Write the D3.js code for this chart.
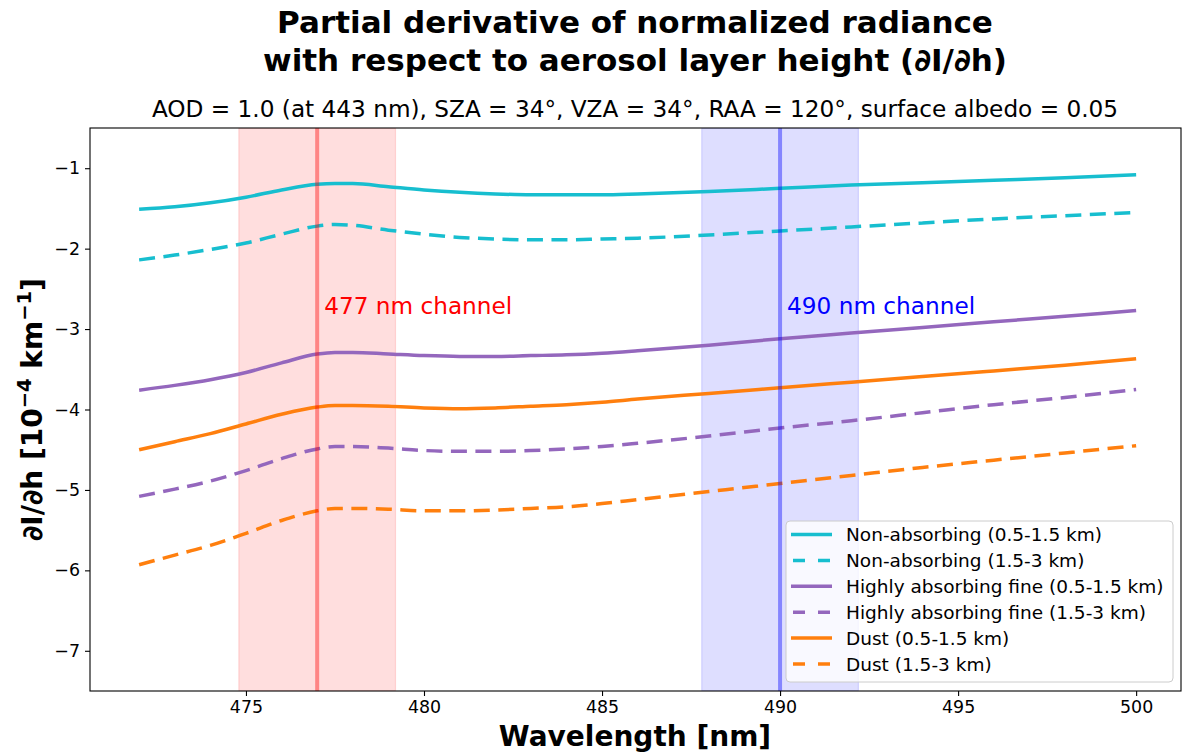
<!DOCTYPE html>
<html>
<head>
<meta charset="utf-8">
<script src="https://cdn.jsdelivr.net/npm/d3@7"></script>
<style>
  html, body { margin: 0; padding: 0; background: #fff; }
  svg { display: block; font-family: "DejaVu Sans", sans-serif; }
</style>
</head>
<body>
<svg id="chart" width="1183" height="754"></svg>
<script>
const wavelengths = [472, 473, 474, 475, 476, 477, 477.5, 478, 479, 480, 481, 482, 483, 484, 485, 486, 488, 490, 492, 494, 496, 498, 500];

const nonAbsLow  = [-1.51, -1.48, -1.43, -1.36, -1.27, -1.20, -1.19, -1.19, -1.23, -1.27, -1.30, -1.32, -1.33, -1.33, -1.33, -1.32, -1.29, -1.25, -1.21, -1.18, -1.15, -1.12, -1.08];
const nonAbsHigh = [-2.14, -2.08, -2.01, -1.93, -1.82, -1.72, -1.70, -1.71, -1.77, -1.82, -1.86, -1.88, -1.89, -1.89, -1.88, -1.87, -1.83, -1.78, -1.73, -1.68, -1.63, -1.59, -1.55];
const absLow     = [-3.76, -3.70, -3.63, -3.54, -3.42, -3.31, -3.29, -3.29, -3.31, -3.33, -3.34, -3.34, -3.33, -3.32, -3.30, -3.27, -3.20, -3.12, -3.05, -2.98, -2.91, -2.84, -2.77];
const absHigh    = [-5.08, -4.99, -4.89, -4.76, -4.61, -4.49, -4.46, -4.46, -4.48, -4.51, -4.52, -4.52, -4.51, -4.49, -4.46, -4.42, -4.33, -4.23, -4.14, -4.04, -3.94, -3.85, -3.75];
const dustLow    = [-4.50, -4.40, -4.30, -4.18, -4.06, -3.97, -3.95, -3.95, -3.96, -3.98, -3.99, -3.98, -3.96, -3.94, -3.91, -3.87, -3.80, -3.73, -3.66, -3.59, -3.52, -3.45, -3.37];
const dustHigh   = [-5.93, -5.81, -5.69, -5.54, -5.38, -5.26, -5.23, -5.23, -5.24, -5.26, -5.26, -5.25, -5.23, -5.21, -5.17, -5.12, -5.02, -4.92, -4.82, -4.72, -4.63, -4.54, -4.45];

const seriesNames = [
  "Non-absorbing (0.5-1.5 km)",
  "Non-absorbing (1.5-3 km)",
  "Highly absorbing fine (0.5-1.5 km)",
  "Highly absorbing fine (1.5-3 km)",
  "Dust (0.5-1.5 km)",
  "Dust (1.5-3 km)"
];
const seriesValues = [nonAbsLow, nonAbsHigh, absLow, absHigh, dustLow, dustHigh];
const seriesColors = ["#17becf", "#17becf", "#9467bd", "#9467bd", "#ff7f0e", "#ff7f0e"];
const seriesDashed = [false, true, false, true, false, true];

const channels = [
  {center: 477, lo: 474.8, hi: 479.2, label: "477 nm channel", color: "#ff0000"},
  {center: 490, lo: 487.8, hi: 492.2, label: "490 nm channel", color: "#0000ff"}
];

const xTicks = [475, 480, 485, 490, 495, 500];
const yTicks = [-1, -2, -3, -4, -5, -6, -7];

(function draw() {
const svg = d3.select("#chart");
const pL = 90, pR = 1181, pT = 128, pB = 691;

const x = d3.scaleLinear().domain([470.62, 501.26]).range([pL, pR]);
const y = d3.scaleLinear().domain([-7.5, -0.5]).range([pB, pT]);

// Titles
svg.append("text").attr("x", 635).attr("y", 33).attr("text-anchor", "middle")
  .attr("font-size", 31).attr("font-weight", "bold").text("Partial derivative of normalized radiance");
svg.append("text").attr("x", 635).attr("y", 71).attr("text-anchor", "middle")
  .attr("font-size", 31).attr("font-weight", "bold").text("with respect to aerosol layer height (\u2202I/\u2202h)");
svg.append("text").attr("x", 635).attr("y", 117).attr("text-anchor", "middle")
  .attr("font-size", 23.2).text("AOD = 1.0 (at 443 nm), SZA = 34\u00b0, VZA = 34\u00b0, RAA = 120\u00b0, surface albedo = 0.05");

const plot = svg.append("g");
plot.append("defs").append("clipPath").attr("id", "clip")
  .append("rect").attr("x", pL).attr("y", pT).attr("width", pR - pL).attr("height", pB - pT);

const clipG = plot.append("g").attr("clip-path", "url(#clip)");

// bands
channels.forEach(c => {
  clipG.append("rect")
    .attr("x", x(c.lo)).attr("y", pT)
    .attr("width", x(c.hi) - x(c.lo)).attr("height", pB - pT)
    .attr("fill", c.color).attr("fill-opacity", 0.13)
    .attr("stroke", c.color).attr("stroke-opacity", 0.13).attr("stroke-width", 1.2);
});

// series
const line = d3.line().x(d => x(d[0])).y(d => y(d[1])).curve(d3.curveMonotoneX);
seriesValues.forEach((vals, i) => {
  clipG.append("path")
    .datum(wavelengths.map((w, j) => [w, vals[j]]))
    .attr("d", line)
    .attr("fill", "none")
    .attr("stroke", seriesColors[i])
    .attr("stroke-width", 3.5)
    .attr("stroke-dasharray", seriesDashed[i] ? "16,8.5" : null)
    .attr("stroke-linecap", "butt");
});

// channel center lines and labels
channels.forEach(c => {
  clipG.append("line")
    .attr("x1", x(c.center)).attr("x2", x(c.center))
    .attr("y1", pT).attr("y2", pB)
    .attr("stroke", c.color).attr("stroke-opacity", 0.4).attr("stroke-width", 4);
  svg.append("text")
    .attr("x", x(c.center) + 7).attr("y", 314)
    .attr("font-size", 23.2).attr("fill", c.color)
    .text(c.label);
});

// axes
const xAxis = d3.axisBottom(x).tickValues(xTicks).tickSize(5).tickPadding(5).tickFormat(d3.format("d"));
const yAxis = d3.axisLeft(y).tickValues(yTicks).tickSize(5).tickPadding(5).tickFormat(d => "\u2212" + Math.abs(d));

const gx = svg.append("g").attr("transform", `translate(0,${pB})`).call(xAxis);
const gy = svg.append("g").attr("transform", `translate(${pL},0)`).call(yAxis);
[gx, gy].forEach(g => {
  g.select(".domain").remove();
  g.selectAll(".tick line").attr("stroke", "#000").attr("stroke-width", 1.1);
  g.selectAll(".tick text").attr("font-size", 17.4).attr("fill", "#000").attr("font-family", "DejaVu Sans");
});

// frame
svg.append("rect").attr("x", pL).attr("y", pT).attr("width", pR - pL).attr("height", pB - pT)
  .attr("fill", "none").attr("stroke", "#000").attr("stroke-width", 1.1);

// axis labels
svg.append("text").attr("x", 635).attr("y", 746).attr("text-anchor", "middle")
  .attr("font-size", 28).attr("font-weight", "bold").text("Wavelength [nm]");

const yl = svg.append("text").attr("transform", `translate(42,${(pT + pB) / 2}) rotate(-90)`)
  .attr("text-anchor", "middle").attr("font-size", 28).attr("font-weight", "bold");
yl.append("tspan").text("\u2202I/\u2202h [10");
yl.append("tspan").attr("dy", -11).attr("font-size", 19.5).text("\u22124");
yl.append("tspan").attr("dy", 11).text(" km");
yl.append("tspan").attr("dy", -11).attr("font-size", 19.5).text("\u22121");
yl.append("tspan").attr("dy", 11).text("]");

// legend
const lg = svg.append("g");
const lx = 786, ly = 521, lw = 387, lh = 161;
lg.append("rect").attr("x", lx).attr("y", ly).attr("width", lw).attr("height", lh)
  .attr("rx", 4).attr("fill", "#fff").attr("fill-opacity", 0.8)
  .attr("stroke", "#cccccc").attr("stroke-width", 1);
seriesNames.forEach((name, i) => {
  const ry = 534.5 + i * 25.9;
  lg.append("line")
    .attr("x1", seriesDashed[i] ? 793 : 791).attr("x2", 832)
    .attr("y1", ry).attr("y2", ry)
    .attr("stroke", seriesColors[i]).attr("stroke-width", 3.5)
    .attr("stroke-dasharray", seriesDashed[i] ? "12,13" : null);
  lg.append("text").attr("x", 846).attr("y", ry + 6.5)
    .attr("font-size", 18.5).attr("fill", "#000").text(name);
});
})();
</script>
</body>
</html>
